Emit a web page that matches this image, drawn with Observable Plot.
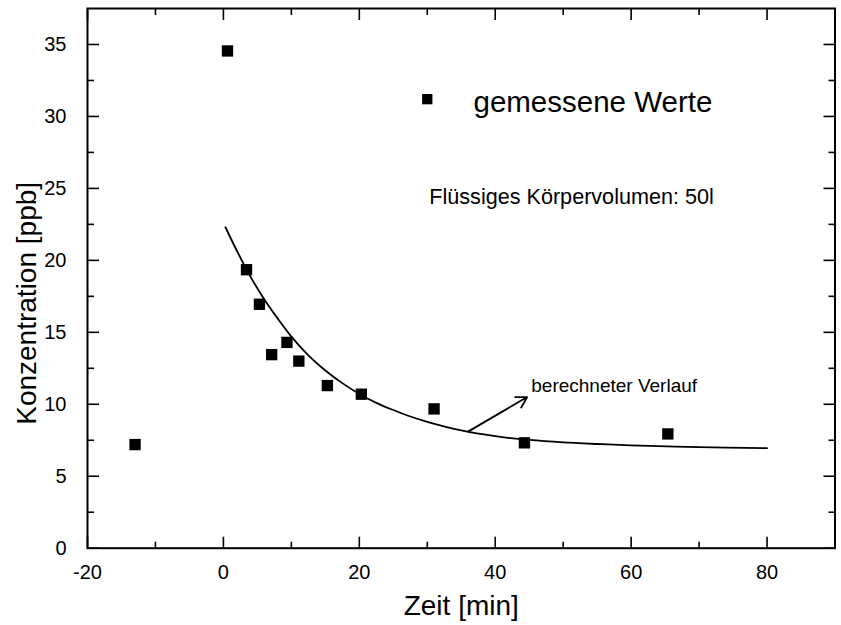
<!DOCTYPE html>
<html><head><meta charset="utf-8">
<script src="https://cdn.jsdelivr.net/npm/d3@7"></script>
<script src="https://cdn.jsdelivr.net/npm/@observablehq/plot@0.6"></script>
<style>body{margin:0;background:#fff;}</style>
</head><body><div id="chart"></div>
<script>
// measured values
const zeit = [-13, 0.6, 3.4, 5.3, 7.1, 9.35, 11.1, 15.3, 20.3, 31.0, 44.3, 65.4];
const konz = [7.2, 34.55, 19.35, 16.95, 13.45, 14.3, 13.0, 11.3, 10.7, 9.68, 7.32, 7.94];
// calculated curve
const fitZeit = [0.3, 2, 4, 6, 8, 10, 12.5, 15, 17.5, 20, 22.5, 25, 27.5, 30, 35, 40, 45, 50, 55, 60, 70, 80];
const fitKonz = [22.3, 20.65, 18.85, 17.3, 15.95, 14.7, 13.4, 12.35, 11.47, 10.72, 10.1, 9.6, 9.15, 8.78, 8.18, 7.78, 7.52, 7.35, 7.24, 7.15, 7.02, 6.95];
// ticks
const xMajor = [-20, 0, 20, 40, 60, 80];
const xMinor = [-10, 10, 30, 50, 70];
const yMajor = [0, 5, 10, 15, 20, 25, 30, 35];
const yMinor = [2.5, 7.5, 12.5, 17.5, 22.5, 27.5, 32.5];
// annotations
const legendSym = [{x: 30, y: 31.2}];
const legendText = [{x: 36.8, y: 31.0, t: "gemessene Werte"}];
const volText = [{x: 30.3, y: 24.4, t: "Flüssiges Körpervolumen: 50l"}];
const curveText = [{x: 45.3, y: 11.3, t: "berechneter Verlauf"}];
const arrowSeg = [{x1: 36.0, y1: 8.1, x2: 44.7, y2: 10.5}];

const points = zeit.map((z, i) => ({z, k: konz[i]}));
const fit = fitZeit.map((z, i) => ({z, k: fitKonz[i]}));
const blank = () => "";
const plain = d => String(d);

const chart = Plot.plot({
  width: 841, height: 625,
  marginLeft: 87, marginRight: 6.5, marginTop: 8, marginBottom: 77.3,
  style: {fontFamily: "'Liberation Sans', Arial, sans-serif", background: "white", color: "black"},
  x: {domain: [-20, 90]},
  y: {domain: [0, 37.5]},
  marks: [
    // tick labels
    Plot.axisX(xMajor, {anchor: "bottom", tickSize: 0, tickPadding: 17, fontSize: 20, label: null, tickFormat: plain}),
    Plot.axisY(yMajor, {anchor: "left", tickSize: 0, tickPadding: 21, fontSize: 20, label: null, tickFormat: plain}),
    // inward ticks
    Plot.axisX(xMajor, {anchor: "bottom", tickSize: -11, tickFormat: blank, label: null, strokeWidth: 1.6}),
    Plot.axisX(xMinor, {anchor: "bottom", tickSize: -6, tickFormat: blank, label: null, strokeWidth: 1.6}),
    Plot.axisX(xMajor, {anchor: "top", tickSize: -11, tickFormat: blank, label: null, strokeWidth: 1.6}),
    Plot.axisX(xMinor, {anchor: "top", tickSize: -6, tickFormat: blank, label: null, strokeWidth: 1.6}),
    Plot.axisY(yMajor, {anchor: "left", tickSize: -12, tickFormat: blank, label: null, strokeWidth: 1.6}),
    Plot.axisY(yMinor, {anchor: "left", tickSize: -7, tickFormat: blank, label: null, strokeWidth: 1.6}),
    Plot.axisY(yMajor, {anchor: "right", tickSize: -12, tickFormat: blank, label: null, strokeWidth: 1.6}),
    Plot.axisY(yMinor, {anchor: "right", tickSize: -7, tickFormat: blank, label: null, strokeWidth: 1.6}),
    Plot.frame({stroke: "black", strokeWidth: 2}),
    // axis titles
    Plot.text(["Zeit [min]"], {frameAnchor: "bottom", textAnchor: "middle", lineAnchor: "middle", dy: 58, fontSize: 28, text: d => d}),
    Plot.text(["Konzentration [ppb]"], {frameAnchor: "left", textAnchor: "middle", lineAnchor: "middle", rotate: -90, dx: -60, dy: 25, fontSize: 28, text: d => d}),
    // curve
    Plot.line(fit, {x: "z", y: "k", curve: "catmull-rom", stroke: "black", strokeWidth: 1.8}),
    // data points
    Plot.dot(points, {x: "z", y: "k", symbol: "square", r: 6.4, fill: "black", stroke: null}),
    // legend & notes
    Plot.dot(legendSym, {x: "x", y: "y", symbol: "square", r: 5.8, fill: "black", stroke: null}),
    Plot.text(legendText, {x: "x", y: "y", text: "t", textAnchor: "start", fontSize: 29.5}),
    Plot.text(volText, {x: "x", y: "y", text: "t", textAnchor: "start", fontSize: 21.6}),
    Plot.text(curveText, {x: "x", y: "y", text: "t", textAnchor: "start", fontSize: 19}),
    Plot.arrow(arrowSeg, {x1: "x1", y1: "y1", x2: "x2", y2: "y2", stroke: "black", strokeWidth: 1.8, headLength: 10})
  ]
});
document.getElementById("chart").append(chart);
</script>
</body></html>
